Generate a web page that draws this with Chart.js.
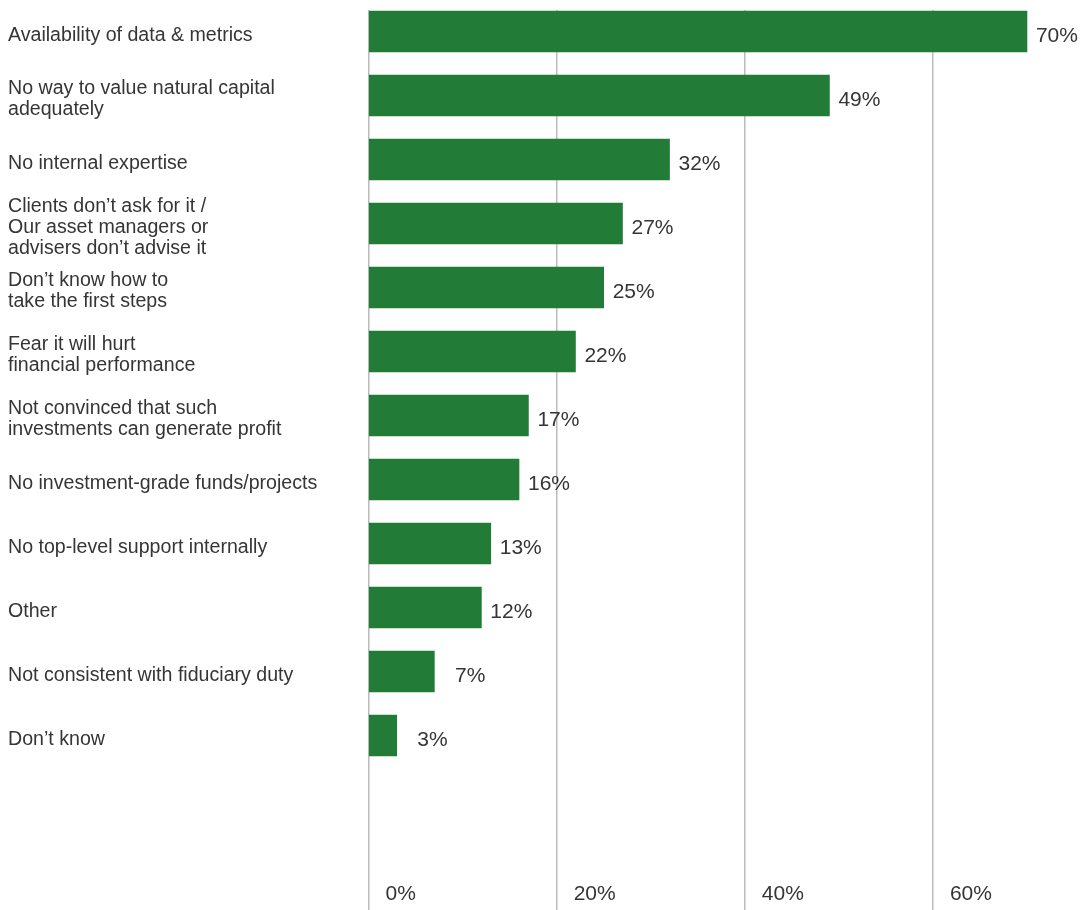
<!DOCTYPE html>
<html>
<head>
<meta charset="utf-8">
<script src="https://cdn.jsdelivr.net/npm/chart.js@4"></script>
<style>
  html, body { margin: 0; padding: 0; background: #ffffff; }
  #wrap { width: 1090px; height: 910px; }
</style>
</head>
<body>
<div id="wrap"><canvas id="c" width="1090" height="910"></canvas></div>
<script>
const categories = [
  ["Availability of data & metrics"],
  ["No way to value natural capital", "adequately"],
  ["No internal expertise"],
  ["Clients don\u2019t ask for it /", "Our asset managers or", "advisers don\u2019t advise it"],
  ["Don\u2019t know how to", "take the first steps"],
  ["Fear it will hurt", "financial performance"],
  ["Not convinced that such", "investments can generate profit"],
  ["No investment-grade funds/projects"],
  ["No top-level support internally"],
  ["Other"],
  ["Not consistent with fiduciary duty"],
  ["Don\u2019t know"]
];
const values = [70, 49, 32, 27, 25, 22, 17, 16, 13, 12, 7, 3];
const xTickValues = [0, 20, 40, 60];

const TEXT = '#353535';
const FONT = "'Liberation Sans', Arial, Helvetica, sans-serif";

const valueLabels = {
  id: 'valueLabels',
  afterDatasetsDraw(chart) {
    const ctx = chart.ctx;
    const meta = chart.getDatasetMeta(0);
    ctx.save();
    ctx.font = "21px " + FONT;
    ctx.fillStyle = TEXT;
    ctx.textAlign = 'right';
    ctx.textBaseline = 'middle';
    meta.data.forEach((bar, i) => {
      ctx.fillText(values[i] + '%', bar.x + 51, bar.y + 4.5);
    });
    ctx.restore();
  }
};

new Chart(document.getElementById('c'), {
  type: 'bar',
  data: {
    datasets: [{
      data: values.map((v, i) => ({ x: v, y: i })),
      backgroundColor: '#227b36',
      borderWidth: 0,
      barThickness: 41
    }]
  },
  options: {
    indexAxis: 'y',
    responsive: false,
    animation: false,
    layout: { padding: { left: 8, top: 10, right: 0, bottom: 0 } },
    plugins: { legend: { display: false }, tooltip: { enabled: false } },
    scales: {
      x: {
        type: 'linear',
        position: 'bottom',
        min: 0,
        max: 76.7,
        afterBuildTicks(scale) { scale.ticks = xTickValues.map(v => ({ value: v })); },
        afterFit(scale) { scale.height = 30; },
        grid: { color: '#bbbbbb', lineWidth: 1.5, drawTicks: true, tickLength: 30, tickColor: '#bbbbbb' },
        border: { display: false },
        ticks: {
          align: 'start',
          labelOffset: 17,
          padding: -28,
          color: TEXT,
          font: { family: FONT, size: 21 },
          callback: v => v + '%'
        }
      },
      y: {
        type: 'linear',
        reverse: true,
        offset: false,
        min: -0.336,
        max: 13.258,
        afterBuildTicks(scale) { scale.ticks = categories.map((c, i) => ({ value: i })); },
        afterFit(scale) { scale.width = 360.5; scale.paddingTop = 0; scale.paddingBottom = 0; },
        grid: { display: false, offset: false },
        border: { display: false },
        ticks: {
          crossAlign: 'far',
          labelOffset: 4,
          color: TEXT,
          font: { family: FONT, size: 19.6, lineHeight: 1.07 },
          callback: v => categories[v]
        }
      }
    }
  },
  plugins: [valueLabels]
});
</script>
</body>
</html>
